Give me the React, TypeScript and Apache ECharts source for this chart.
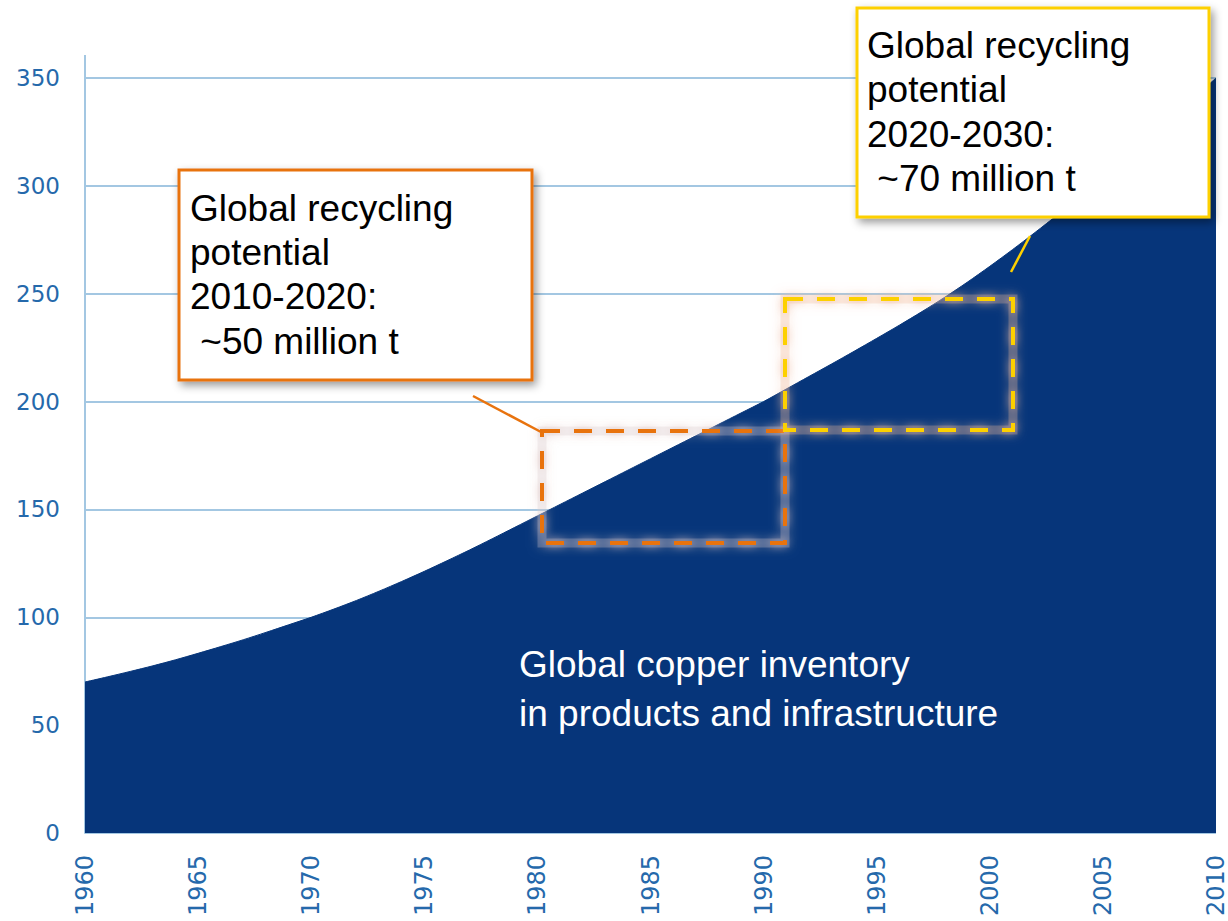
import React, { useEffect, useRef } from "react";
import * as echarts from "echarts";

const years: number[] = [
  1960, 1961, 1962, 1963, 1964, 1965, 1966, 1967, 1968, 1969,
  1970, 1971, 1972, 1973, 1974, 1975, 1976, 1977, 1978, 1979,
  1980, 1981, 1982, 1983, 1984, 1985, 1986, 1987, 1988, 1989,
  1990, 1991, 1992, 1993, 1994, 1995, 1996, 1997, 1998, 1999,
  2000, 2001, 2002, 2003, 2004, 2005, 2006, 2007, 2008, 2009, 2010,
];
const inventory: number[] = [
  70, 72.4, 74.9, 77.5, 80.3, 83.3, 86.4, 89.6, 93, 96.5,
  100, 103.8, 107.8, 112.1, 116.6, 121.3, 126.2, 131.2, 136.4, 141.7,
  147, 152.3, 157.6, 162.9, 168.2, 173.5, 178.8, 184.1, 189.4, 194.7,
  200, 205.8, 211.6, 217.4, 223.3, 229.3, 235.4, 241.7, 248.3, 255.3,
  262.7, 270.4, 278.4, 286.6, 295, 303.5, 312.2, 321.6, 331, 340.5, 350,
];

const orangeBoxLines = ["Global recycling", "potential", "2010-2020:", " ~50 million t"];
const yellowBoxLines = ["Global recycling", "potential", "2020-2030:", " ~70 million t"];
const inventoryLabel = ["Global copper inventory", "in products and infrastructure"];

const ORANGE = "#e8730e";
const YELLOW = "#fdd000";
const AXIS_BLUE = "#2569ab";
const GRID_BLUE = "#a3c7e2";
const AREA = "#06357a";
const FONT = '"Liberation Sans", Arial, sans-serif';

export default function App() {
  const ref = useRef<HTMLDivElement>(null);

  useEffect(() => {
    document.body.style.margin = "0";
    if (!ref.current) return;
    const chart = echarts.init(ref.current, undefined, { renderer: "svg" });

    const data = years.map((y, i) => [y, inventory[i]]);

    const glowUnder = (x: number, y: number, w: number, h: number, color: string, glow: string, z: number) => ({
      type: "rect",
      z,
      shape: { x, y, width: w, height: h },
      style: {
        fill: "transparent",
        stroke: color,
        lineWidth: 9,
        shadowBlur: 12,
        shadowColor: glow,
      },
    });

    const dashed = (x: number, y: number, w: number, h: number, color: string, glow: string, z: number) => ({
      type: "rect",
      z,
      shape: { x, y, width: w, height: h },
      style: {
        fill: "transparent",
        stroke: color,
        lineWidth: 4,
        lineDash: [18, 14],
        shadowBlur: 10,
        shadowColor: glow,
      },
    });

    const option: any = {
      animation: false,
      backgroundColor: "#ffffff",
      grid: { left: 85, right: 8, top: 78, bottom: 88, containLabel: false },
      xAxis: {
        type: "value",
        min: 1960,
        max: 2010,
        interval: 5,
        axisLine: { show: false },
        axisTick: { show: false },
        splitLine: { show: false },
        axisLabel: {
          rotate: 90,
          margin: 22,
          color: AXIS_BLUE,
          fontSize: 24,
          fontFamily: '"DejaVu Sans", sans-serif',
          formatter: (v: number) => String(v),
        },
      },
      yAxis: {
        type: "value",
        min: 0,
        max: 350,
        interval: 50,
        axisLine: { show: true, lineStyle: { color: GRID_BLUE, width: 2 } },
        axisTick: { show: false },
        splitLine: { show: true, lineStyle: { color: GRID_BLUE, width: 2 } },
        axisLabel: {
          margin: 25,
          color: AXIS_BLUE,
          fontSize: 23,
          fontFamily: '"DejaVu Sans", sans-serif',
        },
      },
      series: [
        {
          type: "line",
          data,
          showSymbol: false,
          smooth: 0.3,
          lineStyle: { width: 1, color: AREA },
          areaStyle: { color: AREA, opacity: 1 },
          z: 3,
        },
      ],
      graphic: [
        {
          type: "line",
          z: 5,
          shape: { x1: 85, y1: 55, x2: 85, y2: 78 },
          style: { stroke: GRID_BLUE, lineWidth: 2 },
        },
        {
          type: "text",
          z: 20,
          x: 519,
          y: 640,
          style: {
            text: inventoryLabel.join("\n"),
            fill: "#ffffff",
            fontSize: 37,
            fontFamily: FONT,
            lineHeight: 49,
            verticalAlign: "top",
          },
        },
        glowUnder(542, 431, 243, 112, "rgba(215,200,205,0.28)", "rgba(225,205,205,0.9)", 28),
        glowUnder(785, 299, 228, 131, "rgba(240,185,155,0.28)", "rgba(240,190,165,0.9)", 29),
        dashed(542, 431, 243, 112, ORANGE, "rgba(230,200,195,0.9)", 30),
        dashed(785, 299, 228, 131, YELLOW, "rgba(240,185,160,0.9)", 31),
        {
          type: "line",
          z: 40,
          shape: { x1: 180, y1: 396, x2: 532, y2: 396 },
          style: {
            stroke: ORANGE,
            lineWidth: 2.5,
            shadowBlur: 6,
            shadowColor: "rgba(0,0,0,0.35)",
            shadowOffsetY: 4,
          },
        },
        {
          type: "line",
          z: 40,
          shape: { x1: 473, y1: 396, x2: 541, y2: 432 },
          style: { stroke: ORANGE, lineWidth: 2.5 },
        },
        {
          type: "rect",
          z: 41,
          shape: { x: 179, y: 170, width: 353, height: 210 },
          style: {
            fill: "#ffffff",
            stroke: ORANGE,
            lineWidth: 3,
            shadowBlur: 8,
            shadowColor: "rgba(0,0,0,0.4)",
            shadowOffsetX: 3,
            shadowOffsetY: 4,
          },
        },
        {
          type: "text",
          z: 42,
          x: 190,
          y: 186,
          style: {
            text: orangeBoxLines.join("\n"),
            fill: "#000000",
            fontSize: 37,
            fontFamily: FONT,
            lineHeight: 44.3,
            verticalAlign: "top",
          },
        },
        {
          type: "line",
          z: 40,
          shape: { x1: 857, y1: 236, x2: 1209, y2: 236 },
          style: {
            stroke: YELLOW,
            lineWidth: 2.5,
            shadowBlur: 6,
            shadowColor: "rgba(0,0,0,0.35)",
            shadowOffsetY: 4,
          },
        },
        {
          type: "line",
          z: 40,
          shape: { x1: 1030, y1: 236, x2: 1011, y2: 272 },
          style: { stroke: YELLOW, lineWidth: 2.5 },
        },
        {
          type: "rect",
          z: 41,
          shape: { x: 857, y: 8, width: 352, height: 209 },
          style: {
            fill: "#ffffff",
            stroke: YELLOW,
            lineWidth: 3,
            shadowBlur: 8,
            shadowColor: "rgba(0,0,0,0.4)",
            shadowOffsetX: 3,
            shadowOffsetY: 4,
          },
        },
        {
          type: "text",
          z: 42,
          x: 867,
          y: 23,
          style: {
            text: yellowBoxLines.join("\n"),
            fill: "#000000",
            fontSize: 37,
            fontFamily: FONT,
            lineHeight: 44.5,
            verticalAlign: "top",
          },
        },
      ],
    };

    chart.setOption(option);
    return () => chart.dispose();
  }, []);

  return (
    <div
      ref={ref}
      style={{ position: "absolute", left: 0, top: 0, width: 1228, height: 921 }}
    />
  );
}
